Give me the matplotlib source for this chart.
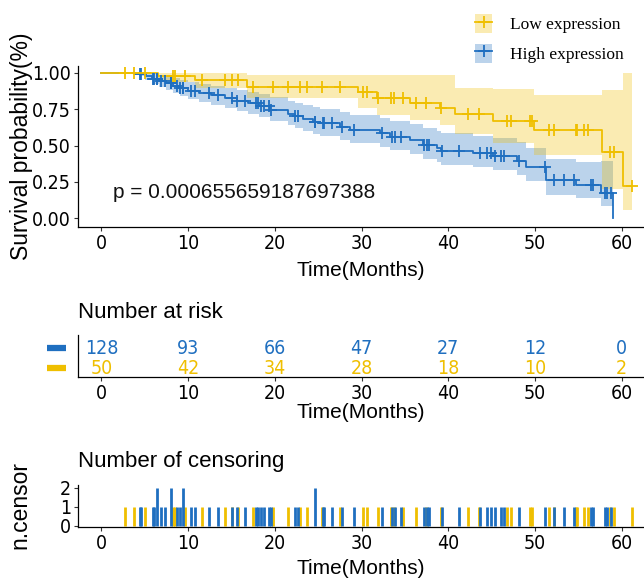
import matplotlib
matplotlib.use("Agg")
import matplotlib.pyplot as plt
from matplotlib import font_manager
from matplotlib.font_manager import FontProperties
from matplotlib.patches import Patch
from matplotlib.lines import Line2D
import numpy as np

# Kaplan-Meier step tables (time, survival, lower CI, upper CI)
high_time = [0, 4.3, 5.0, 5.8, 6.6, 7.4, 8.2, 9.0, 10.0, 11.2, 12.6, 14.2, 15.6, 16.9, 18.2, 19.4,
             21.5, 22.3, 23.2, 24.4, 25.2, 27.5, 28.7, 32.1, 33.3, 35.6, 37.1, 38.7, 39.2, 42.9,
             45.2, 47.9, 49.0, 51.3, 54.7, 57.6, 59.05]
high_surv = [1.000, 0.992, 0.976, 0.960, 0.944, 0.928, 0.912, 0.896, 0.879, 0.862, 0.845, 0.827,
             0.810, 0.792, 0.773, 0.745, 0.720, 0.703, 0.686, 0.665, 0.652, 0.630, 0.607, 0.584,
             0.560, 0.536, 0.504, 0.480, 0.462, 0.446, 0.426, 0.395, 0.354, 0.265, 0.230, 0.172, 0.000]
high_lower = [1.000, 0.977, 0.950, 0.927, 0.905, 0.884, 0.864, 0.844, 0.823, 0.803, 0.782, 0.761,
              0.741, 0.720, 0.698, 0.667, 0.640, 0.621, 0.602, 0.579, 0.565, 0.541, 0.517, 0.492,
              0.466, 0.441, 0.409, 0.385, 0.367, 0.350, 0.330, 0.298, 0.258, 0.160, 0.140, 0.080, 0.080]
high_upper = [1.000, 1.000, 1.000, 0.994, 0.985, 0.975, 0.963, 0.951, 0.939, 0.926, 0.913, 0.899,
              0.886, 0.871, 0.856, 0.832, 0.810, 0.796, 0.782, 0.764, 0.752, 0.733, 0.713, 0.693,
              0.672, 0.651, 0.622, 0.600, 0.583, 0.568, 0.550, 0.523, 0.485, 0.405, 0.385, 0.390, 0.390]

low_time = [0, 6.5, 10.8, 16.8, 29.6, 31.8, 35.6, 39.0, 40.8, 45.2, 49.9, 57.7, 60.1, 61.2]
low_surv = [1.000, 0.979, 0.955, 0.906, 0.866, 0.828, 0.791, 0.757, 0.718, 0.672, 0.610, 0.455, 0.222, 0.222]
low_lower = [1.000, 0.938, 0.897, 0.830, 0.760, 0.712, 0.675, 0.640, 0.580, 0.515, 0.432, 0.200, 0.055, 0.055]
low_upper = [1.000, 1.000, 1.000, 0.988, 0.985, 0.985, 0.985, 0.985, 0.900, 0.890, 0.850, 0.880, 1.000, 1.000]

# Censoring times (repeated value = two patients censored at that time)
high_censor = [4.4, 4.6, 5.9, 6.1, 6.4, 6.4, 6.9, 7.3, 8.0, 8.0, 8.7, 9.1, 9.4, 9.4, 10.3, 10.8,
               12.4, 13.4, 15.0, 15.6, 16.6, 17.8, 18.1, 18.4, 18.7, 19.3, 19.6, 22.3, 22.7,
               24.6, 24.6, 25.5, 25.7, 26.6, 27.7, 29.1, 32.3, 33.5, 33.8, 34.5, 37.2, 37.5,
               37.8, 39.3, 41.2, 43.7, 44.5, 44.9, 45.4, 46.1, 46.4, 48.1, 51.1, 52.2, 53.4,
               54.5, 56.5, 56.7, 58.1, 58.3, 58.8]
low_censor = [2.7, 3.75, 5.0, 8.3, 8.5, 9.6, 11.6, 14.2, 15.0, 15.8, 17.5, 19.8, 21.5, 22.9,
              23.7, 25.4, 27.5, 30.2, 30.6, 31.9, 33.4, 33.7, 34.8, 36.3, 37.4, 39.2, 42.3,
              43.5, 46.8, 47.2, 49.4, 49.7, 51.6, 52.2, 54.7, 54.9, 55.6, 56.1, 58.7, 59.1, 61.2]

risk_times = [0, 10, 20, 30, 40, 50, 60]
high_risk = [128, 93, 66, 47, 27, 12, 0]
low_risk = [50, 42, 34, 28, 18, 10, 2]

p_value = "0.000655659187697388"
labels = ["Low expression", "High expression"]

BLUE = "#1f6fc0"
YELLOW = "#efbf00"
W, H = 644, 581
XLIM = (-2.71, 62.57)

plt.rcParams["font.family"] = ["Liberation Sans", "DejaVu Sans"]

# tick labels use a condensed face when one is installed
fonts = font_manager.fontManager.ttflist
if any(f.name == "Liberation Sans Narrow" for f in fonts):
    TICK_FONT = FontProperties(family="Liberation Sans Narrow", size=15)
elif any(f.name == "DejaVu Sans" and f.stretch == "condensed" for f in fonts):
    TICK_FONT = FontProperties(family="DejaVu Sans", stretch="condensed", size=14)
else:
    TICK_FONT = FontProperties(family="Liberation Sans", size=13.5)


def px_axes(fig, left, top, right, bottom):
    """Add axes given pixel edges measured from the top-left corner."""
    return fig.add_axes([left / W, 1 - bottom / H, (right - left) / W, (bottom - top) / H])


def style_axes(ax):
    for side in ("top", "right"):
        ax.spines[side].set_visible(False)
    for side in ("left", "bottom"):
        ax.spines[side].set_linewidth(0.9)
    ax.tick_params(length=3, width=0.8, color="#333333", pad=2)
    ax.set_xlim(*XLIM)
    ax.set_xticks(risk_times)
    for lab in ax.get_xticklabels() + ax.get_yticklabels():
        lab.set_fontproperties(TICK_FONT)
    ax.patch.set_alpha(0)


def surv_at(times, surv, t):
    idx = np.searchsorted(times, t, side="right") - 1
    return np.asarray(surv)[idx]


fig = plt.figure(figsize=(W / 100, H / 100), dpi=100)

# --- survival curves ---
ax = px_axes(fig, 78, 65.75, 644, 226.7)
ax.fill_between(high_time, high_lower, high_upper, step="post", color=BLUE, alpha=0.3, lw=0)
ax.fill_between(low_time, low_lower, low_upper, step="post", color=YELLOW, alpha=0.3, lw=0)
ax.step(high_time, high_surv, where="post", color=BLUE, lw=1.3)
ax.step(low_time, low_surv, where="post", color=YELLOW, lw=1.3)
ax.plot(high_censor, surv_at(high_time, high_surv, high_censor), ls="none", marker="+",
        ms=8, mew=1.3, color=BLUE)
ax.plot(low_censor, surv_at(low_time, low_surv, low_censor), ls="none", marker="+",
        ms=8, mew=1.3, color=YELLOW)
ax.text(1.3, 0.175, "p = " + p_value, fontsize=15, ha="left", va="center", color="#111111")
ax.set_ylim(-0.06, 1.05)
ax.set_yticks([0, 0.25, 0.5, 0.75, 1.0])
ax.set_yticklabels(["0.00", "0.25", "0.50", "0.75", "1.00"])
style_axes(ax)
fig.text(22 / W, 1 - 146 / H, "Survival probability(%)", rotation=90, fontsize=16.5,
         ha="center", va="center")
fig.text(361 / W, 1 - 271 / H, "Time(Months)", fontsize=15, ha="center", va="center")

handles = [
    (Patch(facecolor=YELLOW, alpha=0.3, lw=0), Line2D([], [], color=YELLOW, lw=1.3, marker="+", ms=8, mew=1.3)),
    (Patch(facecolor=BLUE, alpha=0.3, lw=0), Line2D([], [], color=BLUE, lw=1.3, marker="+", ms=8, mew=1.3)),
]
fig.legend(handles, labels, loc="upper left", bbox_to_anchor=(475 / W, 1 - 14 / H),
           frameon=False, prop={"family": "Liberation Serif", "size": 12.5},
           handlelength=1.0, handleheight=1.3, handletextpad=1.0, labelspacing=0.6,
           borderpad=0, borderaxespad=0)

# --- number at risk table ---
fig.text(78 / W, 1 - 313 / H, "Number at risk", fontsize=16, ha="left", va="center")
rx = px_axes(fig, 78, 335, 644, 377)
for i, t in enumerate(risk_times):
    rx.text(t, 2, str(high_risk[i]), color=BLUE, fontproperties=TICK_FONT, ha="center", va="center")
    rx.text(t, 1, str(low_risk[i]), color=YELLOW, fontproperties=TICK_FONT, ha="center", va="center")
rx.plot([-6.3, -4.1], [2, 2], color=BLUE, lw=4.5, solid_capstyle="butt", clip_on=False)
rx.plot([-6.3, -4.1], [1, 1], color=YELLOW, lw=4.5, solid_capstyle="butt", clip_on=False)
rx.set_ylim(0.55, 2.65)
rx.set_yticks([])
style_axes(rx)
fig.text(361 / W, 1 - 413 / H, "Time(Months)", fontsize=15, ha="center", va="center")

# --- number of censored subjects ---
fig.text(78 / W, 1 - 462 / H, "Number of censoring", fontsize=16, ha="left", va="center")
cx = px_axes(fig, 78, 485, 644, 527)
lt, lc = np.unique(low_censor, return_counts=True)
ht, hc = np.unique(high_censor, return_counts=True)
cx.vlines(lt, 0, lc, color=YELLOW, lw=2)
cx.vlines(ht, 0, hc, color=BLUE, lw=2)
cx.set_ylim(-0.07, 2.14)
cx.set_yticks([0, 1, 2])
style_axes(cx)
fig.text(20 / W, 1 - 505 / H, "n.censor", rotation=90, fontsize=16.5, ha="center", va="center")
fig.text(361 / W, 1 - 568 / H, "Time(Months)", fontsize=15, ha="center", va="center")

fig.savefig("out.png", dpi=100)
